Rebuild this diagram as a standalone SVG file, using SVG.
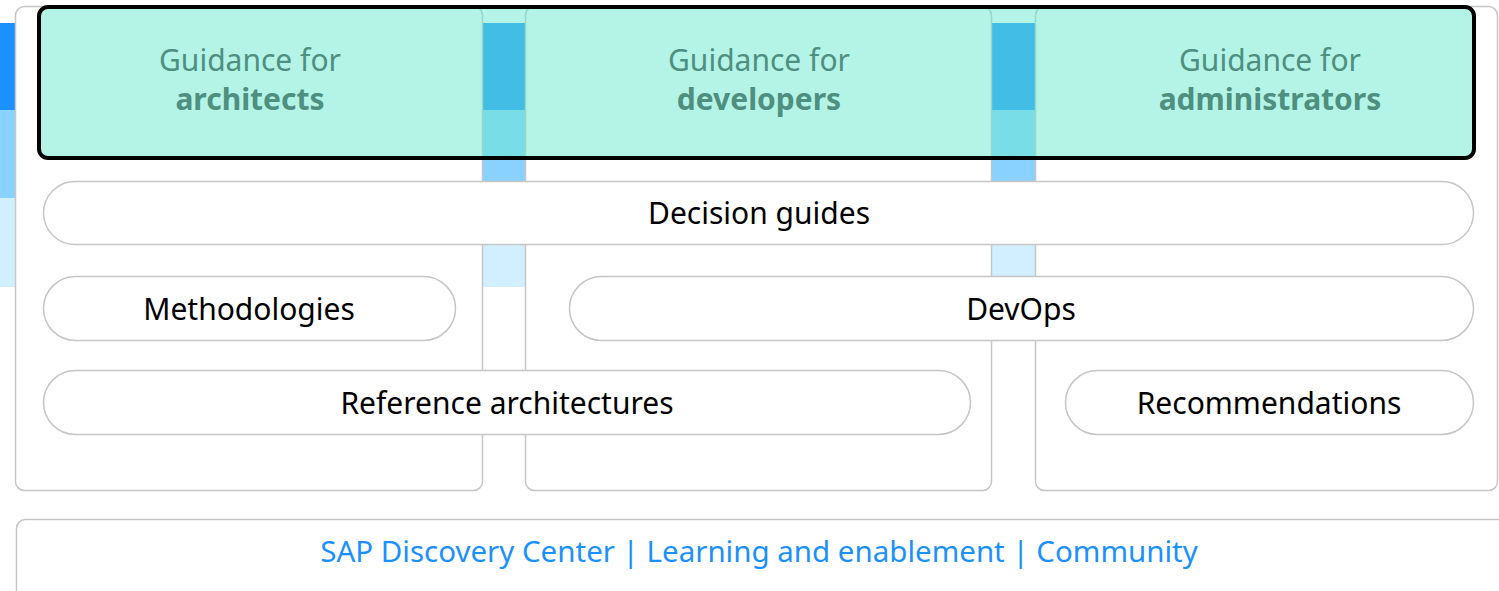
<svg xmlns="http://www.w3.org/2000/svg" width="1499" height="591" viewBox="0 0 1499 591">
<style>
.col{fill:#fff;stroke:#c6c6c6;stroke-width:1.5}
.pill{fill:#fff;stroke:#c6c6c6;stroke-width:1.5}
.t{font-family:"Noto Sans","Open Sans",sans-serif;font-size:30px;fill:#000;text-anchor:middle}
.g{font-family:"Noto Sans","Open Sans",sans-serif;font-size:30px;fill:#4e8f7f;text-anchor:middle}
.b{font-weight:bold}
.link{font-family:"Noto Sans","Open Sans",sans-serif;font-size:29.5px;fill:#1b90ff;text-anchor:middle}
</style>
<rect width="1499" height="591" fill="#fff"/>
<g id="bands">
<rect x="0" y="23" width="1490" height="87" fill="#1b90ff"/>
<rect x="0" y="110" width="1490" height="88" fill="#89d1ff"/>
<rect x="0" y="198" width="1490" height="89" fill="#d1efff"/>
</g>
<g id="col-architects"><rect class="col" x="15.5" y="6.5" width="467" height="484" rx="9"/></g>
<g id="col-developers"><rect class="col" x="525.5" y="6.5" width="466" height="484" rx="9"/></g>
<g id="col-administrators"><rect class="col" x="1035.5" y="6.5" width="462" height="484" rx="9"/></g>
<g id="guidance">
<rect x="39" y="7" width="1435" height="151" rx="9" fill="#67e9cd" fill-opacity="0.5" stroke="#000" stroke-width="4"/>
<text class="g" x="250" y="71">Guidance for</text>
<text class="g b" x="250" y="110">architects</text>
<text class="g" x="759" y="71">Guidance for</text>
<text class="g b" x="759" y="110">developers</text>
<text class="g" x="1270" y="71">Guidance for</text>
<text class="g b" x="1270" y="110">administrators</text>
</g>
<g id="decision-guides"><rect class="pill" x="43.5" y="181.5" width="1430" height="63" rx="31.5"/><text class="t" x="759" y="224">Decision guides</text></g>
<g id="methodologies"><rect class="pill" x="43.5" y="276.5" width="412" height="64" rx="32"/><text class="t" x="249" y="320">Methodologies</text></g>
<g id="devops"><rect class="pill" x="569.5" y="276.5" width="904" height="64" rx="32"/><text class="t" x="1021" y="320">DevOps</text></g>
<g id="reference-architectures"><rect class="pill" x="43.5" y="370.5" width="927" height="64" rx="32"/><text class="t" x="507" y="414">Reference architectures</text></g>
<g id="recommendations"><rect class="pill" x="1065.5" y="370.5" width="408" height="64" rx="32"/><text class="t" x="1269" y="414">Recommendations</text></g>
<g id="resources"><rect class="col" x="16.5" y="519.5" width="1490" height="90" rx="9"/><text class="link" x="759" y="562">SAP Discovery Center | Learning and enablement | Community</text></g>
<g id="connectors"></g>
</svg>
